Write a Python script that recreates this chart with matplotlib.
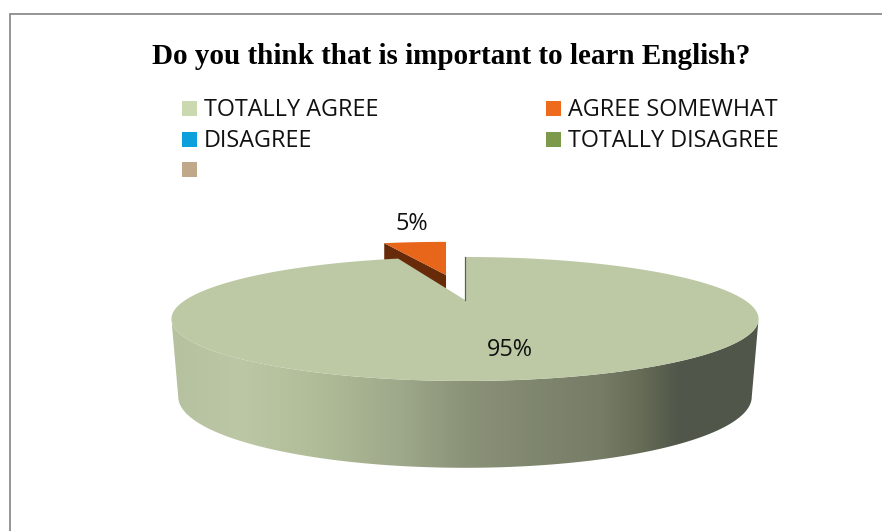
import matplotlib
matplotlib.use("Agg")
import matplotlib.pyplot as plt
import numpy as np
from matplotlib.colors import LinearSegmentedColormap
from matplotlib.patches import Polygon, Rectangle

title = "Do you think that is important to learn English?"
categories = ["TOTALLY AGREE", "AGREE SOMEWHAT", "DISAGREE", "TOTALLY DISAGREE", ""]
values = [95, 5, 0, 0, 0]
legend_colors = ["#cbd9b1", "#ee6a1c", "#0ba0dc", "#7c9a4a", "#c0a98a"]

top_color = "#bdc9a5"
slice_top = "#e8661a"
slice_side = "#672b0a"

# perspective of the pie: k tilts the circle, top and bottom faces differ a little
k = 0.306
cx = 465
top_face = (300, 56.2, 279.5)
bottom_face = (375, 64.4, 273)
explode = 0.52
small_width = 200
small_shift = -0.0135


def project(c, s, face):
    y0, a, b = face
    w = 1 + k * s
    return cx + b * c / w, y0 - a * s / w


def arc(start, end, face, n=200):
    # angles are degrees clockwise from 12 o'clock
    t = np.radians(np.linspace(start, end, n))
    return project(np.sin(t), np.cos(t), face)


plt.rcParams["font.family"] = ["Open Sans", "DejaVu Sans"]

fig = plt.figure(figsize=(8.82, 5.31), dpi=100)
ax = fig.add_axes([0, 0, 1, 1])

# chart area border, only left and top fall inside the figure
ax.plot([9.5, 9.5, 882], [531, 14, 14], color="#8c8c8c", lw=1.3, solid_joinstyle="miter")

ax.text(451.5, 56.5, title, family="Liberation Serif", weight="bold", fontsize=21,
        ha="center", va="center", color="black")

# legend, two columns
leg_x = [182, 546]
leg_y = [108.5, 139.5, 169.5]
for i, name in enumerate(categories):
    x = leg_x[i % 2]
    y = leg_y[i // 2]
    ax.add_patch(Rectangle((x, y - 7.5), 15, 15, fc=legend_colors[i], ec="none"))
    ax.text(x + 22, y + 1.5, name, fontsize=16.8, va="center", ha="left", color="#111111")

angles = 360 * np.cumsum(values) / np.sum(values)
big_end = angles[0]
mid = np.radians((big_end + 360) / 2)
off_c, off_s = explode * np.sin(mid), explode * np.cos(mid)


def small_outline(face):
    # the pulled out slice keeps its width front to back, only y foreshortens
    t = np.radians(np.linspace(big_end, 360, 40))
    c = np.r_[0, np.sin(t)] + off_c
    s = np.r_[0, np.cos(t)] + off_s
    _, ys = project(c, s, face)
    return cx + small_width * (c + small_shift), ys


# pulled out slice, its cut face first so the top sits over it
tx, ty = small_outline(top_face)
bx, by = small_outline(bottom_face)
side = np.array([[tx[0], ty[0]], [tx[1], ty[1]], [bx[1], by[1]], [bx[0], by[0]]])
ax.add_patch(Polygon(side, fc=slice_side, ec="none"))
ax.add_patch(Polygon(np.c_[tx, ty], fc=slice_top, ec="none"))

# front wall of the large slice, between the silhouette tangents
tangent = np.degrees(np.arccos(-k))
ux, uy = arc(tangent, 360 - tangent, top_face)
lx, ly = arc(tangent, 360 - tangent, bottom_face)
wall = Polygon(np.r_[np.c_[ux, uy], np.c_[lx, ly][::-1]], fc="none", ec="none")
ax.add_patch(wall)
shade = LinearSegmentedColormap.from_list("shade", [
    (0.0, "#50574a"), (0.135, "#50574a"), (0.2, "#666c56"), (0.27, "#767c66"),
    (0.5, "#8a9278"), (0.61, "#9ea88a"), (0.75, "#b0bc98"), (0.884, "#bcc7a5"), (1.0, "#b6c29f")])
img = ax.imshow(np.linspace(1, 0, 256)[None, :], cmap=shade, vmin=0, vmax=1, aspect="auto",
                extent=(172, 759, 480, 300), zorder=2)
img.set_clip_path(wall)

# top of the large slice
hx, hy = arc(0, big_end, top_face, 400)
ax_x, ax_y = project(0, 0, top_face)
ax.add_patch(Polygon(np.c_[np.r_[ax_x, hx], np.r_[ax_y, hy]], fc=top_color, ec="none", zorder=3))
ax.plot([ax_x, hx[0]], [ax_y, hy[0]], color="#5c6252", lw=0.9, zorder=3)

ax.text(411.5, 224, f"{values[1]}%", fontsize=16.8, ha="center", va="center", color="#111111", zorder=4)
ax.text(510, 350, f"{values[0]}%", fontsize=16.8, ha="center", va="center", color="#111111", zorder=4)

ax.set_xlim(0, 882)
ax.set_ylim(531, 0)
ax.axis("off")

fig.savefig("out.png", dpi=100)
